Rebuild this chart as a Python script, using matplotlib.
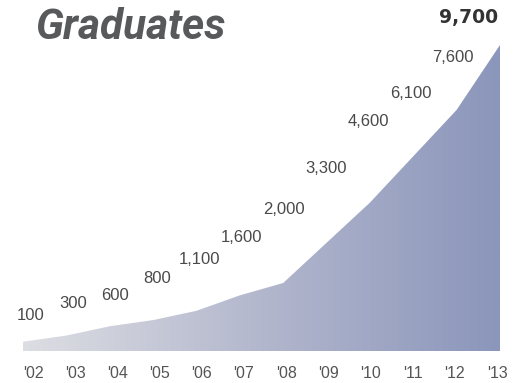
import numpy as np
import matplotlib
matplotlib.use('Agg')
import matplotlib.pyplot as plt
from matplotlib.colors import LinearSegmentedColormap

years = ["'02", "'03", "'04", "'05", "'06", "'07", "'08", "'09", "'10", "'11", "'12", "'13"]
graduates = [100, 300, 600, 800, 1100, 1600, 2000, 3300, 4600, 6100, 7600, 9700]
value_labels = ['100', '300', '600', '800', '1,100', '1,600', '2,000',
                '3,300', '4,600', '6,100', '7,600', '9,700']

# label lift above the area top, in pixels (hand placed in the original)
label_lift = [26, 32, 31, 42, 51, 58, 74, 74, 81, 63, 52, 28]

W, H = 526, 383
fig = plt.figure(figsize=(W / 100, H / 100), dpi=100)
# axes box: first point at px 23, last at px 500, floor at px 351, top at px 45
ax = fig.add_axes([23 / W, (H - 351) / H, (500 - 23) / W, (351 - 45) / H])
x = np.arange(len(years))
floor = -200
ax.set_xlim(0, len(years) - 1)
ax.set_ylim(floor, max(graduates))
ax.axis('off')

# area with horizontal gradient
poly = ax.fill_between(x, graduates, floor, color='none', lw=0)
cmap = LinearSegmentedColormap.from_list('grad', ['#dddee3', '#b3b7cd', '#8b96bb'])
img = ax.imshow(np.linspace(0, 1, 256).reshape(1, -1), cmap=cmap, aspect='auto',
                extent=[0, len(years) - 1, floor, max(graduates)], zorder=1)
path = poly.get_paths()[0]
img.set_clip_path(path, transform=ax.transData)

px_step = (500 - 23) / (len(years) - 1)
lab_px = np.linspace(31, 453, len(years) - 1)
tick_px = np.linspace(33, 497, len(years))

num_font = dict(family='Liberation Sans', fontsize=12, color='#4a4a4a')
for i, (v, lab) in enumerate(zip(graduates, value_labels)):
    if i == len(years) - 1:
        ax.annotate(lab, xy=(i, v), xytext=(-2, label_lift[i]), textcoords='offset pixels',
                    ha='right', va='center', family='DejaVu Sans', fontweight='bold',
                    fontsize=13.5, color='#333333', annotation_clip=False)
    else:
        dx = lab_px[i] - (23 + i * px_step)
        ax.annotate(lab, xy=(i, v), xytext=(dx, label_lift[i]), textcoords='offset pixels',
                    ha='center', va='center', annotation_clip=False, **num_font)

for i, yr in enumerate(years):
    dx = tick_px[i] - (23 + i * px_step)
    ax.annotate(yr, xy=(i, floor), xytext=(dx, -22), textcoords='offset pixels',
                ha='center', va='center', annotation_clip=False,
                family='Liberation Sans', fontsize=11.5, color='#555555')

fig.text(35 / W, 1 - 39 / H, 'Graduates', ha='left', va='baseline',
         family='Roboto', fontweight='bold', fontstyle='italic',
         fontsize=30.5, color='#58595b')

fig.savefig('out.png', dpi=100)
